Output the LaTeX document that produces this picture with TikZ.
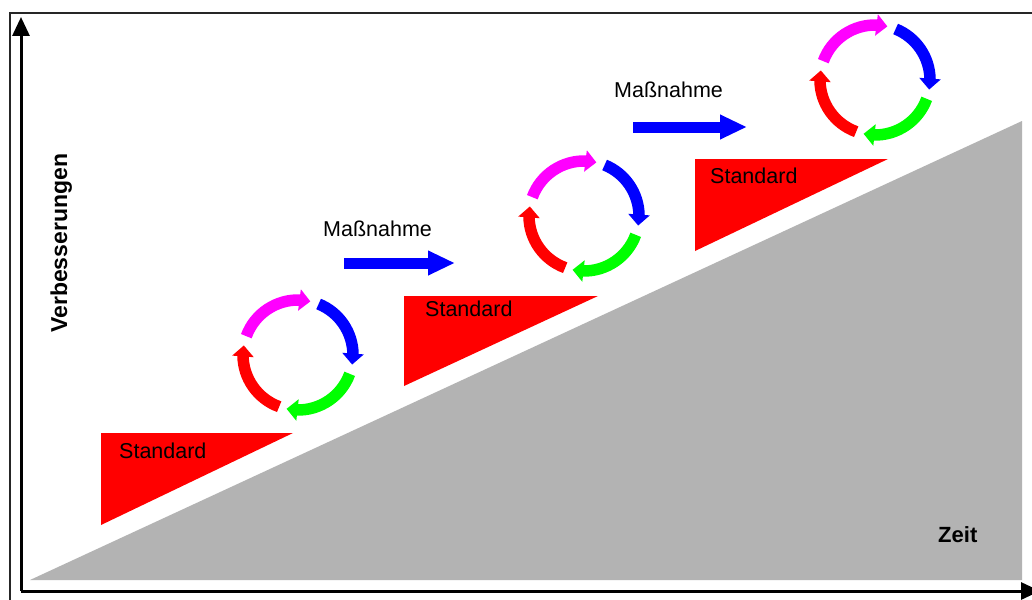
\documentclass[tikz,border=0pt]{standalone}
\usepackage{fontspec}
\setmainfont{Liberation Sans}
\usetikzlibrary{arrows.meta,calc,bending}
\definecolor{slopegray}{RGB}{179,179,179}
\definecolor{pinkc}{RGB}{255,0,255}
\definecolor{bluec}{RGB}{0,0,255}
\definecolor{greenc}{RGB}{0,255,0}
\definecolor{redc}{RGB}{255,0,0}
\tikzset{
  lbl/.style={inner sep=0pt, anchor=base west, font=\fontsize{21.5}{25}\selectfont},
  blbl/.style={inner sep=0pt, anchor=base west, font=\fontsize{22}{26}\selectfont\bfseries},
  cyc/.style={line width=11.5pt, -{Triangle[length=11pt,width=21pt,flex]}},
  measure/.style={draw=bluec, line width=11pt, -{Triangle[length=27pt,width=23pt]}},
  axis/.style={line width=3pt, -{Triangle[length=19pt,width=17pt]}},
  stdtri/.style={fill=redc, draw=none},
}
\newcommand{\pdcacycle}[1]{%
  \draw[cyc, draw=pinkc, pinkc]  ($(#1)+(160:55)$) arc[start angle=160, end angle=77, radius=55];
  \draw[cyc, draw=bluec, bluec]  ($(#1)+(68:55)$)  arc[start angle=68, end angle=-10, radius=55];
  \draw[cyc, draw=greenc, greenc] ($(#1)+(-20:55)$) arc[start angle=-20, end angle=-102, radius=55];
  \draw[cyc, draw=redc, redc]    ($(#1)+(-110:55)$) arc[start angle=-110, end angle=-190, radius=55];
}
\begin{document}
\begin{tikzpicture}[x=1pt,y=1pt]
\useasboundingbox (0,0) rectangle (1032,-599);
\fill[white] (0,0) rectangle (1032,-599);
% outer frame (cropped)
\draw[line width=2pt, black!85] (10,-610) -- (10,-13) -- (1045,-13);
% slope
\fill[slopegray] (30,-580) -- (1022,-580) -- (1022,-121) -- cycle;
% axes
\coordinate (origin) at (21,-591);
\coordinate (ytop) at (21,-17);
\coordinate (xend) at (1040,-591);
\draw[axis] (origin) -- (ytop);
\draw[axis] (origin) -- (xend);
% standard triangles
\fill[stdtri] (101,-433) -- (293,-433) -- (101,-525) -- cycle;
\fill[stdtri] (404,-296) -- (598,-296) -- (404,-386) -- cycle;
\fill[stdtri] (695,-159) -- (888,-159) -- (695,-251) -- cycle;
\node[lbl] (std1) at (119,-458) {Standard};
\node[lbl] (std2) at (425,-316) {Standard};
\node[lbl] (std3) at (710,-183) {Standard};
% cycles
\coordinate (c1) at (298,-355);
\coordinate (c2) at (584,-216);
\coordinate (c3) at (875,-80);
\pdcacycle{c1}
\pdcacycle{c2}
\pdcacycle{c3}
% measures
\coordinate (m1s) at (344,-263);
\coordinate (m1e) at (455,-263);
\coordinate (m2s) at (633,-127);
\coordinate (m2e) at (747,-127);
\draw[measure] (m1s) -- (m1e);
\draw[measure] (m2s) -- (m2e);
\node[lbl] (mass1) at (323,-236) {Maßnahme};
\node[lbl] (mass2) at (614,-98) {Maßnahme};
% axis labels
\node[blbl, font=\fontsize{23}{27}\selectfont\bfseries, rotate=90] (ylab) at (67,-333) {Verbesserungen};
\node[blbl] (xlab) at (938,-542) {Zeit};
\end{tikzpicture}
\end{document}
